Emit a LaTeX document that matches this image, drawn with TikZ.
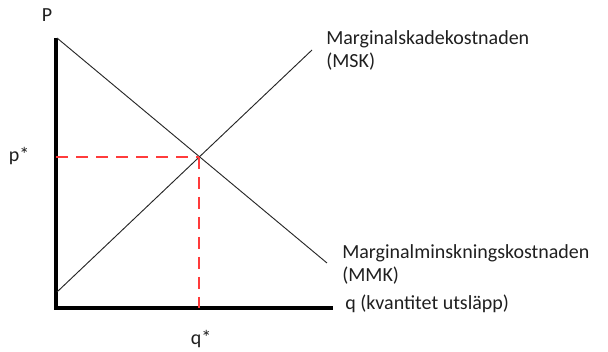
\documentclass[tikz,border=0pt]{standalone}
\usepackage{fontspec}
\setmainfont{Carlito}
\usetikzlibrary{positioning}
\definecolor{ektext}{HTML}{1F1F1F}
\definecolor{ekred}{HTML}{FF3B3B}

\begin{document}
\begin{tikzpicture}[x=0.75pt, y=-0.75pt,
          axis/.style={line width=3pt, black, line join=miter},
          curve/.style={line width=0.7pt, black!85},
          guide/.style={ekred, line width=0.8pt, dash pattern=on 9pt off 6pt},
          lbl/.style={text=ektext, font=\fontsize{15}{17.5}\selectfont, inner sep=0pt, align=left}]
        \useasboundingbox (0,0) rectangle (608,352);
        % axes
        \coordinate (o) at (56,308);
        \coordinate (ytop) at (56,38);
        \coordinate (xend) at (333,308);
        \draw[axis] (ytop) -- (o) -- (xend);
        % curves
        \coordinate (mmkstart) at (57,38);
        \coordinate (mmkend) at (327,263);
        \coordinate (mskstart) at (57,292);
        \coordinate (mskend) at (312,50);
        \draw[curve] (mmkstart) -- (mmkend);
        \draw[curve] (mskstart) -- (mskend);
        % equilibrium
        \coordinate (eq) at (199,157);
        \draw[guide] (o |- eq) -- (eq);
        \draw[guide] (eq) -- (eq |- o);
        % labels
        \node[lbl, anchor=base] (plbl) at (47,22) {P};
        \node[lbl, anchor=base] (pstar) at (19,162) {p*};
        \node[lbl, anchor=base] (qstar) at (201,345) {q*};
        \node[lbl, anchor=north west] (msk) at (326,30) {Marginalskadekostnaden\\(MSK)};
        \node[lbl, anchor=north west] (mmk) at (342,244) {Marginalminskningskostnaden\\(MMK)};
        \node[lbl, anchor=base west] (qlbl) at (345,310) {q (kvantitet utsläpp)};
      \end{tikzpicture}
\end{document}
